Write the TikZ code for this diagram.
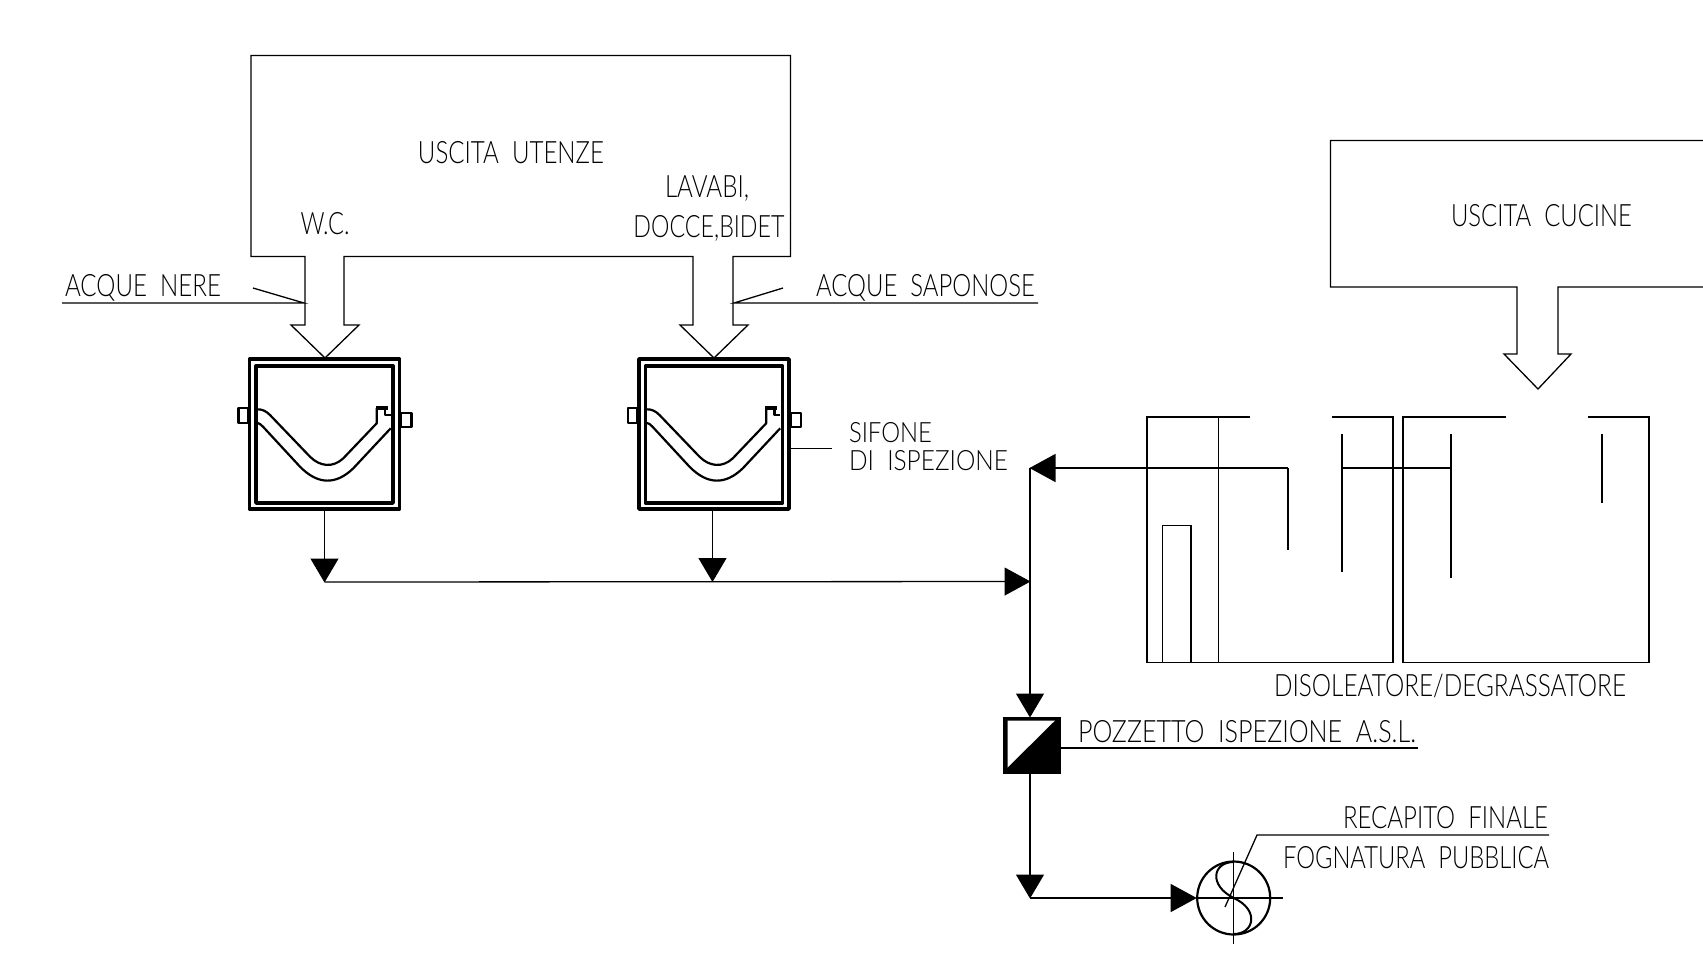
\documentclass[tikz,border=0pt]{standalone}
\usepackage{graphicx}
\usepackage{fontspec}
\setmainfont{Lato}[UprightFont=* Light]
\usetikzlibrary{arrows.meta}
\newcommand{\cad}[3][22pt]{\resizebox{#2}{#1}{\rule{0pt}{10pt}\smash{\fontsize{14pt}{14pt}\selectfont #3}}}
\tikzset{
  thin line/.style={line width=1.3pt,line cap=butt,line join=miter},
  conn/.style={thin line,black,-{Triangle[length=24pt,width=28pt]},shorten >=-0.5pt},
  connh/.style={thin line,black,-{Triangle[length=26pt,width=28pt]},shorten >=-0.5pt},
  plain/.style={thin line,black},
  fat/.style={line width=1.3pt,draw=black,fill=white,line join=miter},
  lab/.style={inner sep=0pt,outer sep=0pt,anchor=base},
  labl/.style={lab,anchor=base west},
  labr/.style={lab,anchor=base east},
  sifbox/.style={draw=black,line width=3.8pt,fill=white,minimum width=150pt,minimum height=150pt,inner sep=0pt,outer sep=1.9pt,line join=round},
  sifin/.style={draw=black,line width=3.4pt,line join=round},
  sifpipe/.style={draw=black,line width=2.2pt,line join=round},
}
\newcommand{\sifone}[2]{%
  \node[sifbox] (#2) at (#1+324.5,434) {};
  \begin{scope}[xshift=#1pt]
    \draw[sifin] (256,366) rectangle (393,503);
    \draw[sifpipe] (238.5,408) rectangle (248,423);
    \draw[sifpipe] (401,413) rectangle (411.5,427);
    \draw[sifpipe] (256.7,409.3) .. controls (262,409) and (266,411) .. (270,415) -- (310,456.7) .. controls (320,466.7) and (333,468) .. (343.3,458.3) -- (376.7,423.3) -- (376.7,408);
    \draw[sifpipe] (256.7,422.7) .. controls (259,423) and (261,424.5) .. (263,426.7) -- (300,466.7) .. controls (318,485) and (336,485) .. (353.3,468.3) -- (390.7,428.3);
    \draw[draw=black,line width=3.4pt] (375.5,407.8) -- (387.5,407.8);
    \draw[sifpipe] (385,408) -- (385,415) -- (390.7,415);
  \end{scope}}
\begin{document}
\begin{tikzpicture}[x=1pt,y=-1pt]
\useasboundingbox (0,0) rectangle (1703,967);
% top box with arrows
\draw[fat] (251,55.5) -- (790.5,55.5) -- (790.5,256.5) -- (733,256.5) -- (733,325) -- (748,325) -- (714,358) -- (680,325) -- (693,325) -- (693,256.5) -- (344,256.5) -- (344,325) -- (359,325) -- (325,358) -- (291,325) -- (305,325) -- (305,256.5) -- (251,256.5) -- cycle;
% kitchen box
\draw[fat] (1703,140.5) -- (1330.5,140.5) -- (1330.5,287) -- (1517,287) -- (1517,354) -- (1504,354) -- (1538,389) -- (1571,354) -- (1558,354) -- (1558,287) -- (1703,287);
% leaders
\coordinate (ln1) at (62,303); \coordinate (ln2) at (304,303); \coordinate (ln3) at (253,288);
\draw[plain] (ln1) -- (ln2) -- (ln3);
\coordinate (ls1) at (1038,303); \coordinate (ls2) at (734,303); \coordinate (ls3) at (783,288);
\draw[plain] (ls1) -- (ls2) -- (ls3);
% siphons
\sifone{0}{sif1}
\sifone{389.5}{sif2}
\coordinate (sl) at (832,448.5);
\draw[plain] (sl) -- (790,448.5);
% junctions
\coordinate (j1) at (324.5,582);
\coordinate (j2) at (712.5,581.5);
\coordinate (j3) at (1030,581.5);
\coordinate (j4) at (1030,468);
\coordinate (j5) at (1030,898);
\draw[conn] (sif1.south) -- (j1);
\draw[conn] (sif2.south -| j2) -- (j2);
\draw[connh] (j1) -- (j3);
% tanks
\draw[plain] (1250,417) -- (1147,417) -- (1147,662.5) -- (1393,662.5) -- (1393,417) -- (1331.5,417);
\draw[plain] (1506,417) -- (1403,417) -- (1403,662.5) -- (1649,662.5) -- (1649,417) -- (1588,417);
\draw[plain] (1218.5,417) -- (1218.5,662.5);
\draw[plain] (1162.5,662.5) -- (1162.5,525.5) -- (1191,525.5) -- (1191,662.5);
\coordinate (b1) at (1288,468);
\draw[plain] (b1) -- (1288,549.5);
\draw[plain] (1342,434) -- (1342,572);
\draw[plain] (1451,434) -- (1451,578);
\draw[plain] (1602,434) -- (1602,503);
\draw[plain] (1342,468) -- (1451,468);
\draw[connh] (b1) -- (j4);
% pozzetto
\node[draw=black,fill=black,line width=1pt,minimum width=57pt,minimum height=56pt,inner sep=0pt,outer sep=0pt] (poz) at (1032,745.5) {};
\fill[white] (1007.5,720.5) -- (1055,720.5) -- (1007.5,767.5) -- cycle;
\draw[plain] (j4) -- (j3);
\draw[conn] (j3) -- (1030,717) coordinate (pin);
\coordinate (pl) at (1418,748);
\draw[plain] (1060,748) -- (pl);
\draw[conn] (1030,774) -- (j5);
% recapito
\node[draw=black,circle,line width=2.2pt,minimum size=73pt,inner sep=0pt,outer sep=1pt] (rec) at (1233.7,898) {};
\draw[connh] (j5) -- (rec.west);
\draw[plain] (rec.center) ++(0,-46) -- ++(0,92);
\draw[plain] (rec.west) -- (1283,898);
\draw[line width=2pt,black] (1233.7,862) .. controls (1213,862) and (1208,885) .. (1233.7,898) .. controls (1260,910) and (1254,934) .. (1233.7,934);
\coordinate (rl1) at (1225,907); \coordinate (rl2) at (1257,835); \coordinate (rl3) at (1549,835);
\draw[plain] (rl1) -- (rl2) -- (rl3);
% labels
\node[lab] (t1) at (511,163) {\cad{186pt}{USCITA~~UTENZE}};
\node[lab] (t2) at (707,197) {\cad{84pt}{LAVABI,}};
\node[lab] (t3) at (709,237) {\cad{151pt}{DOCCE,BIDET}};
\node[lab] (t4) at (325,234) {\cad{49pt}{W.C.}};
\node[labl] (t5) at (65,296) {\cad{156pt}{ACQUE~~NERE}};
\node[labl] (t6) at (816,296) {\cad{219pt}{ACQUE~~SAPONOSE}};
\node[labl] (t7) at (1451,226) {\cad{181pt}{USCITA~~CUCINE}};
\node[labl] (t8) at (849,442) {\cad[20pt]{83pt}{SIFONE}};
\node[labl] (t9) at (849,470) {\cad[20pt]{159pt}{DI~~ISPEZIONE}};
\node[labl] (t10) at (1274,696) {\cad{352pt}{DISOLEATORE/DEGRASSATORE}};
\node[labl] (t11) at (1078,742) {\cad{338pt}{POZZETTO~~ISPEZIONE~~A.S.L.}};
\node[labl] (t12) at (1343,828) {\cad{205pt}{RECAPITO~~FINALE}};
\node[labl] (t13) at (1283,868) {\cad{266pt}{FOGNATURA~~PUBBLICA}};
\end{tikzpicture}
\end{document}
